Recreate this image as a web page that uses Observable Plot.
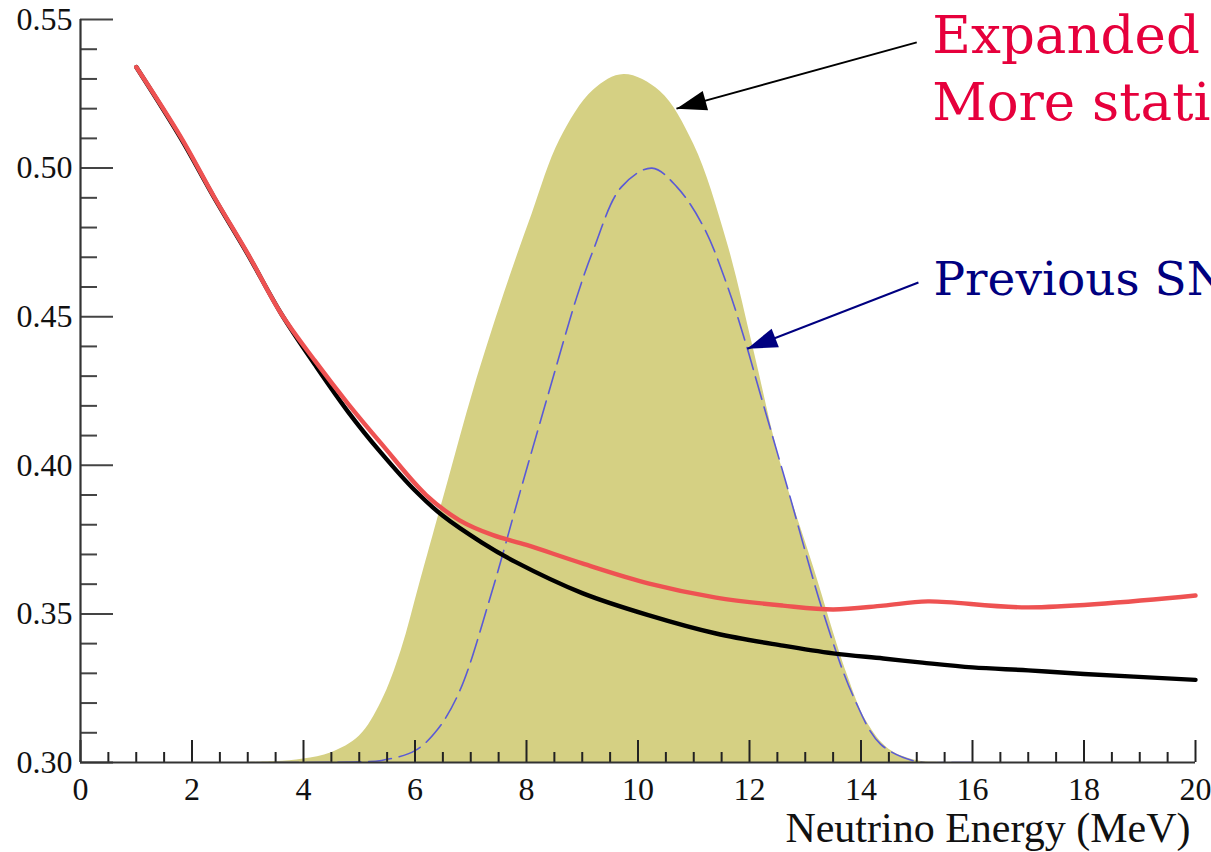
<!DOCTYPE html>
<html>
<head>
<meta charset="utf-8">
<script src="https://cdn.jsdelivr.net/npm/d3@7"></script>
<script src="https://cdn.jsdelivr.net/npm/@observablehq/plot@0.6"></script>
<style>
  html, body { margin: 0; padding: 0; background: #fff; overflow: hidden; }
  #chart svg { display: block; }
</style>
</head>
<body>
<div id="chart"></div>
<script>
// ---- data ----
const blackE = [1, 1.8, 2.4, 3.0, 3.6, 4.2, 4.8, 5.4, 6.0, 6.5, 7.2, 7.8, 9.0, 10.2, 11.4, 12.6, 13.5, 14.4, 15.1, 16.0, 17.0, 18.0, 20.0];
const blackV = [0.534, 0.510, 0.490, 0.471, 0.451, 0.434, 0.418, 0.404, 0.3915, 0.383, 0.374, 0.3675, 0.357, 0.3495, 0.3434, 0.3393, 0.3367, 0.335, 0.3336, 0.332, 0.331, 0.3298, 0.3278];

const redE = [1, 1.8, 2.4, 3.0, 3.6, 4.2, 4.8, 5.4, 6.2, 6.8, 7.4, 8.0, 9.0, 10.2, 11.4, 12.6, 13.5, 14.4, 15.2, 17.0, 20.0];
const redV = [0.534, 0.5104, 0.4902, 0.4712, 0.451, 0.4353, 0.4207, 0.4072, 0.390, 0.3815, 0.3765, 0.3732, 0.367, 0.3602, 0.3555, 0.3528, 0.3515, 0.3528, 0.3542, 0.3522, 0.3562];

const fillE = [0, 3.0, 3.5, 4.0, 4.5, 5.0, 5.4, 5.75, 6.1, 6.6, 7.05, 7.6, 8.1, 8.6, 9.2, 9.75, 10.4, 11.0, 11.6, 12.07, 12.56, 13.15, 13.75, 14.1, 14.5, 15.0, 15.5, 20];
const fillV = [0.3, 0.3, 0.3003, 0.3012, 0.3033, 0.3088, 0.3205, 0.3375, 0.3612, 0.395, 0.4252, 0.4577, 0.4845, 0.5095, 0.5262, 0.5315, 0.5258, 0.508, 0.475, 0.4393, 0.4006, 0.3657, 0.3298, 0.3138, 0.3045, 0.3007, 0.3, 0.3];

const blueE = [3.5, 4.0, 5.0, 5.4, 6.0, 6.4, 6.8, 7.35, 7.9, 8.43, 8.9, 9.2, 9.7, 10.25, 10.7, 11.18, 11.6, 11.95, 12.14, 12.68, 13.33, 13.87, 14.35, 15.0, 15.5, 16.0];
const blueV = [0.3, 0.3, 0.3002, 0.3007, 0.304, 0.311, 0.324, 0.3556, 0.392, 0.4265, 0.4565, 0.4725, 0.4936, 0.5, 0.4936, 0.4801, 0.4605, 0.44, 0.4275, 0.3925, 0.35, 0.3219, 0.3062, 0.3003, 0.3, 0.3];

const xMajor = [0, 2, 4, 6, 8, 10, 12, 14, 16, 18, 20];
const xMinor = d3.range(0.5, 20, 0.5).filter(v => Math.abs(v % 2) > 1e-9);
const yMajor = [0.30, 0.35, 0.40, 0.45, 0.50, 0.55];
const yMinor = d3.range(31, 55).filter(v => v % 5 !== 0).map(v => v / 100);

const xTitle = "Neutrino Energy (MeV)";

// annotations (data coordinates)
const noteText = ["Expanded", "More statistics", "Previous SN"];
const noteX = [15.28, 15.28, 15.3];
const noteY = [0.5388, 0.5163, 0.4574];
const noteColor = ["#e6003c", "#e6003c", "#000080"];
const noteSize = [53, 53, 47];

const arrowX1 = [15.0, 15.03];
const arrowY1 = [0.5423, 0.4615];
const arrowX2 = [10.69, 11.96];
const arrowY2 = [0.5200, 0.4392];
const arrowColor = ["#000000", "#000080"];

// ---- layout ----
const W = 1211, H = 852;
const mL = 80, mR = 16, mT = 19, mB = 90;
const frameW = W - mL - mR, frameH = H - mT - mB;
const xDom = [0, 20], yDom = [0.30, 0.55];
const pxX = frameW / (xDom[1] - xDom[0]);
const pxY = frameH / (yDom[1] - yDom[0]);

const serif = "'Liberation Serif', 'Times New Roman', serif";
const serif2 = "'DejaVu Serif', serif";

const fillData = fillE.map((e, i) => ({e, v: fillV[i]}));
const blueData = blueE.map((e, i) => ({e, v: blueV[i]}));
const blackData = blackE.map((e, i) => ({e, v: blackV[i]}));
const redData = redE.map((e, i) => ({e, v: redV[i]}));
const notes = noteText.map((t, i) => ({t, x: noteX[i], y: noteY[i], c: noteColor[i], s: noteSize[i]}));
const arrows = arrowX1.map((_, i) => ({x1: arrowX1[i], y1: arrowY1[i], x2: arrowX2[i], y2: arrowY2[i], c: arrowColor[i]}));

function headSymbol(a) {
  const dx = (a.x2 - a.x1) * pxX, dy = -(a.y2 - a.y1) * pxY;
  const len = Math.hypot(dx, dy);
  const ux = dx / len, uy = dy / len;
  const nx = -uy, ny = ux;
  const L = 30, hw = 10;
  return {
    draw(ctx) {
      ctx.moveTo(0, 0);
      ctx.lineTo(-ux * L + nx * hw, -uy * L + ny * hw);
      ctx.lineTo(-ux * L - nx * hw, -uy * L - ny * hw);
      ctx.closePath();
    }
  };
}

const chart = Plot.plot({
  width: W, height: H,
  marginLeft: mL, marginRight: mR, marginTop: mT, marginBottom: mB,
  x: {domain: xDom},
  y: {domain: yDom},
  style: {fontFamily: serif, fontSize: "32px", background: "#fff", color: "#111", overflow: "hidden"},
  marks: [
    Plot.areaY(fillData, {x: "e", y1: 0.30, y2: "v", fill: "#d5d083", curve: "catmull-rom", clip: true}),
    Plot.line(blueData, {x: "e", y: "v", stroke: "#5a5ad6", strokeWidth: 1.6, strokeDasharray: "23,8", curve: "catmull-rom", clip: true}),
    Plot.line(blackData, {x: "e", y: "v", stroke: "#000", strokeWidth: 4.4, curve: "catmull-rom"}),
    Plot.line(redData, {x: "e", y: "v", stroke: "#ee5252", strokeWidth: 4.4, curve: "catmull-rom"}),
    // ticks (inward)
    Plot.ruleX(xMajor, {insetTop: frameH - 22, stroke: "#222", strokeWidth: 2}),
    Plot.ruleX(xMinor, {insetTop: frameH - 10, stroke: "#222", strokeWidth: 2}),
    Plot.ruleY(yMajor, {insetRight: frameW - 33, stroke: "#444", strokeWidth: 2}),
    Plot.ruleY(yMinor, {insetRight: frameW - 17, stroke: "#444", strokeWidth: 2}),
    // axis lines
    Plot.ruleY([0.30], {stroke: "#333", strokeWidth: 2.2}),
    Plot.ruleX([0], {stroke: "#333", strokeWidth: 2.2}),
    Plot.axisX(xMajor, {tickSize: 0, tickPadding: 15, label: null, fill: "#111"}),
    Plot.axisY(yMajor, {tickSize: 0, tickPadding: 8, label: null, tickFormat: d3.format(".2f"), fill: "#111"}),
    Plot.text([xTitle], {frameAnchor: "bottom-right", dx: -5, dy: 79, textAnchor: "end", lineAnchor: "bottom", fontSize: 42, fill: "#111"}),
    // annotations
    Plot.link(arrows, {x1: "x1", y1: "y1", x2: "x2", y2: "y2", stroke: "c", strokeWidth: 2}),
    ...arrows.map(a => Plot.dot([a], {x: "x2", y: "y2", symbol: headSymbol(a), fill: a.c, stroke: "none"})),
    ...notes.map(n => Plot.text([n], {x: "x", y: "y", text: "t", textAnchor: "start", lineAnchor: "bottom", fontSize: n.s, fontFamily: serif2, fill: n.c}))
  ]
});
document.getElementById("chart").appendChild(chart);
</script>
</body>
</html>
